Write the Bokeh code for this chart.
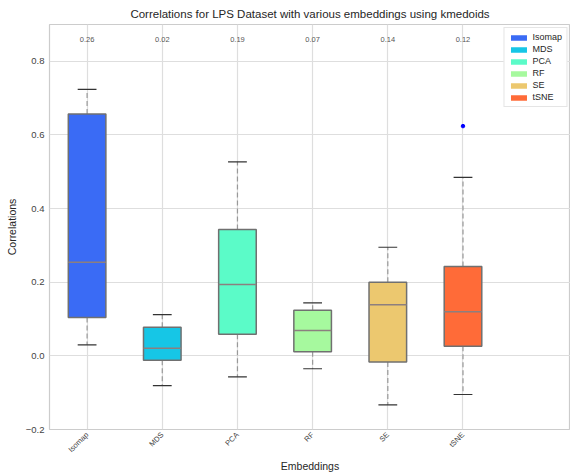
import math
from bokeh.plotting import figure
from bokeh.models import (ColumnDataSource, FixedTicker, Range1d,
                          CustomJSTickFormatter, Legend, LegendItem)
from bokeh.embed import file_html
from bokeh.resources import INLINE
from bokeh.core.properties import value

# ---- data ----
categories = ["Isomap", "MDS", "PCA", "RF", "SE", "tSNE"]
upper_whisker = [0.724, 0.112, 0.527, 0.144, 0.295, 0.485]
q3 = [0.657, 0.078, 0.343, 0.124, 0.200, 0.243]
median = [0.254, 0.021, 0.194, 0.069, 0.139, 0.120]
q1 = [0.104, -0.012, 0.059, 0.011, -0.017, 0.026]
lower_whisker = [0.030, -0.081, -0.057, -0.035, -0.133, -0.105]
mean_labels = ["0.26", "0.02", "0.19", "0.07", "0.14", "0.12"]
outlier_cat = ["tSNE"]
outlier_val = [0.624]
colors = ["#3a6bf5", "#16c6e6", "#5bfbc8", "#a6f99e", "#ecc86f", "#ff6b38"]
y_ticks = [-0.2, 0.0, 0.2, 0.4, 0.6, 0.8]

FONT = "Liberation Sans"
BOX_W = 0.5
CAP_HALF = 0.125
LABEL_Y = 0.86

pos = [i + 1 for i in range(len(categories))]
src = ColumnDataSource(dict(
    x=pos, cat=categories, color=colors,
    q1=q1, q3=q3, med=median, lo=lower_whisker, hi=upper_whisker,
    xl=[p - BOX_W / 2 for p in pos], xr=[p + BOX_W / 2 for p in pos],
    cl=[p - CAP_HALF for p in pos], cr=[p + CAP_HALF for p in pos],
    lab=mean_labels, ly=[LABEL_Y] * len(pos),
))

p = figure(width=570, height=475, output_backend="svg", toolbar_location=None,
           x_range=Range1d(0.5, 7.43), y_range=Range1d(-0.2, 0.9),
           min_border_left=49, min_border_right=0, min_border_top=23,
           min_border_bottom=46, background_fill_color="white",
           border_fill_color="white")

p.title.text = "Correlations for LPS Dataset with various embeddings using kmedoids"
p.title.align = "center"
p.title.text_font = FONT
p.title.text_font_size = "11.5px"
p.title.text_font_style = "normal"
p.title.text_color = "#262626"
p.title.offset = 0

p.outline_line_color = "#cccccc"
p.outline_line_width = 1.2

# axes
p.xaxis.ticker = FixedTicker(ticks=pos)
p.xaxis.major_label_overrides = {x: c for x, c in zip(pos, categories)}
p.xaxis.major_label_orientation = math.pi / 4
p.yaxis.ticker = FixedTicker(ticks=y_ticks)
p.yaxis.formatter = CustomJSTickFormatter(
    code="return tick.toFixed(1).replace('-', '\u2212');")
for ax in (p.xaxis, p.yaxis):
    ax.axis_line_color = None
    ax.major_tick_line_color = None
    ax.minor_tick_line_color = None
    ax.major_tick_in = 0
    ax.major_tick_out = 0
    ax.major_label_text_font = FONT
    ax.major_label_text_color = "#444444"
    ax.axis_label_text_font = FONT
    ax.axis_label_text_font_style = "normal"
    ax.axis_label_text_color = "#262626"
    ax.axis_label_text_font_size = "10.5px"
p.xaxis.major_label_text_font_size = "7.5px"
p.yaxis.major_label_text_font_size = "9.5px"
p.xaxis.major_label_standoff = 4
p.yaxis.major_label_standoff = 5
p.xaxis.axis_label = "Embeddings"
p.yaxis.axis_label = "Correlations"
p.xaxis.axis_label_standoff = 0
p.yaxis.axis_label_standoff = 5

p.xgrid.grid_line_color = "#dedede"
p.ygrid.grid_line_color = "#dedede"
p.xgrid.grid_line_width = 1.2
p.ygrid.grid_line_width = 1.2

# whiskers
p.segment(x0="x", y0="q3", x1="x", y1="hi", source=src, line_color="#999999",
          line_width=1.2, line_dash="5 3")
p.segment(x0="x", y0="q1", x1="x", y1="lo", source=src, line_color="#999999",
          line_width=1.2, line_dash="5 3")
# caps
p.segment(x0="cl", y0="hi", x1="cr", y1="hi", source=src, line_color="#333333",
          line_width=1.2)
p.segment(x0="cl", y0="lo", x1="cr", y1="lo", source=src, line_color="#333333",
          line_width=1.2)
# legend swatches (hidden under the boxes, no outline)
swatch = p.vbar(x="x", width=BOX_W, top="q3", bottom="q1", source=src,
                fill_color="color", line_color=None)
# boxes
boxes = p.vbar(x="x", width=BOX_W, top="q3", bottom="q1", source=src,
               fill_color="color", line_color="#707070", line_width=1.5)
# medians
p.segment(x0="xl", y0="med", x1="xr", y1="med", source=src,
          line_color="#8c7f7f", line_width=1.5)
# outlier
p.scatter(x=[pos[categories.index(c)] for c in outlier_cat], y=outlier_val,
          size=3.5, fill_color="#0000ff", line_color="#0000ff")
# mean labels
p.text(x="x", y="ly", text="lab", source=src, text_align="center",
       text_baseline="middle", text_font=value(FONT), text_font_size="7.5px",
       text_color="#555555")

legend = Legend(items=[LegendItem(label=c, renderers=[swatch], index=i)
                       for i, c in enumerate(categories)])
legend.location = "top_right"
legend.margin = 3
legend.padding = 4
legend.spacing = 2
legend.glyph_width = 20
legend.glyph_height = 7
legend.label_height = 9
legend.label_standoff = 4
legend.label_text_font = FONT
legend.label_text_font_size = "9px"
legend.label_text_color = "#262626"
legend.border_line_color = "#cccccc"
legend.background_fill_color = "white"
legend.background_fill_alpha = 1.0
p.add_layout(legend)

open("out.html", "w").write(file_html(p, INLINE))
